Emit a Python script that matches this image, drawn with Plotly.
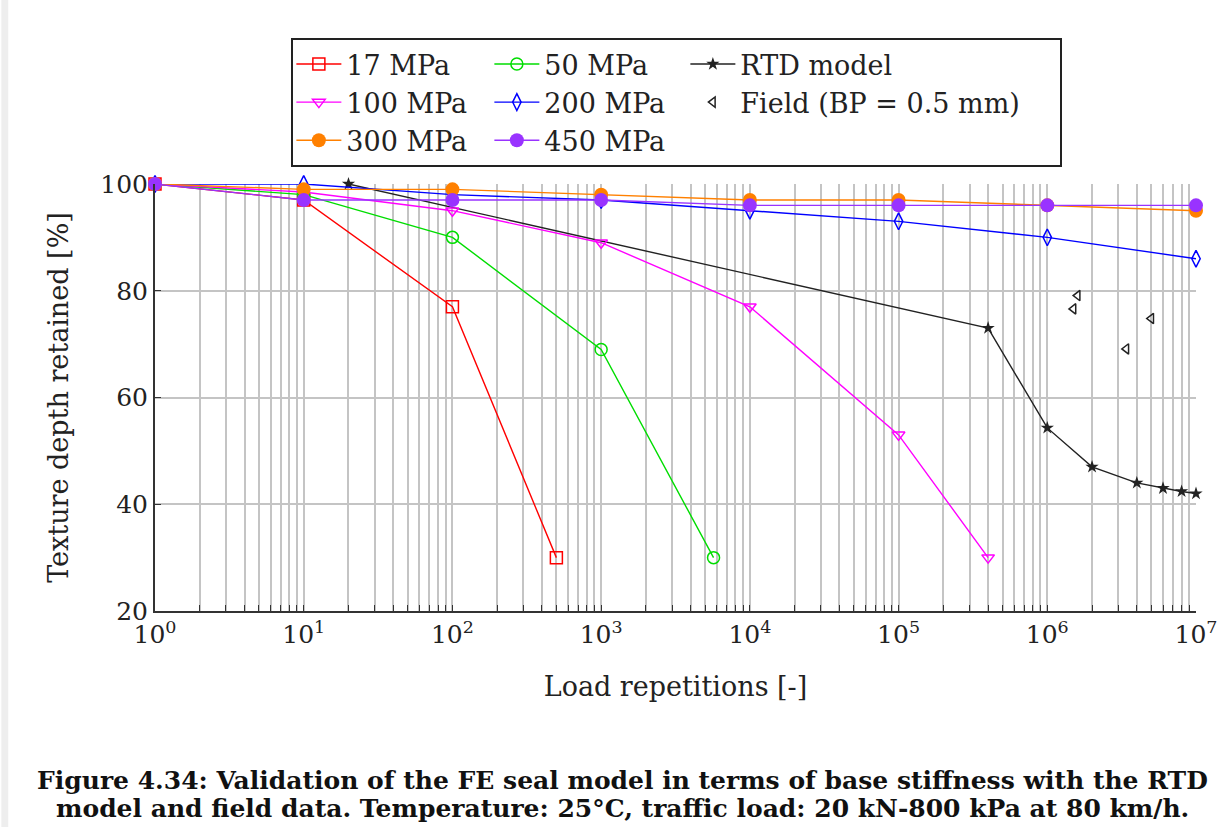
import plotly.graph_objects as go

# ---------------- data ----------------
x_17 = [1, 10, 100, 500]
y_17 = [100, 97, 77, 30]

x_50 = [1, 10, 100, 1000, 5700]
y_50 = [100, 98, 90, 69, 30]

x_rtd = [20, 4e5, 1e6, 2e6, 4e6, 6e6, 8e6, 1e7]
y_rtd = [100, 73, 54.3, 47, 44, 43, 42.4, 42]

x_100 = [1, 10, 100, 1000, 1e4, 1e5, 4e5]
y_100 = [100, 98.5, 95, 89, 77, 53, 30]

x_200 = [1, 10, 100, 1000, 1e4, 1e5, 1e6, 1e7]
y_200 = [100, 100, 98, 97, 95, 93, 90, 86]

x_field = [1.5e6, 1.6e6, 3.4e6, 5e6]
y_field = [76.6, 79.1, 69.1, 74.8]

x_300 = [1, 10, 100, 1000, 1e4, 1e5, 1e6, 1e7]
y_300 = [100, 99, 99, 98, 97, 97, 96, 95]

x_450 = [1, 10, 100, 1000, 1e4, 1e5, 1e6, 1e7]
y_450 = [100, 97, 97, 97, 96, 96, 96, 96]

x_tickvals = [1, 10, 100, 1000, 1e4, 1e5, 1e6, 1e7]
x_ticktext = ["10<sup>0</sup>", "10<sup>1</sup>", "10<sup>2</sup>", "10<sup>3</sup>",
              "10<sup>4</sup>", "10<sup>5</sup>", "10<sup>6</sup>", "10<sup>7</sup>"]
y_tickvals = [20, 40, 60, 80, 100]

caption1 = "Figure 4.34: Validation of the FE seal model in terms of base stiffness with the RTD"
caption2 = "model and field data. Temperature: 25°C, traffic load: 20 kN-800 kPa at 80 km/h."

FONT = "DejaVu Serif"
GRID = "#c4c4c4"
AXC = "#333333"

fig = go.Figure()

def add_line(x, y, name, color, symbol, size, group, lw, filled=False, mode="lines+markers"):
    fig.add_trace(go.Scatter(
        x=x, y=y, name=name, mode=mode, legendgroup=group, legendwidth=lw,
        line=dict(color=color, width=1.4),
        marker=dict(symbol=symbol, size=size, color=color,
                    line=dict(color=color, width=1.5 if not filled else 0)),
        cliponaxis=False,
    ))

add_line(x_17, y_17, "17 MPa", "#ff0000", "square-open", 12, "a", 138)
add_line(x_50, y_50, "50 MPa", "#00dd00", "circle-open", 12, "b", 136)
add_line(x_rtd, y_rtd, "RTD model", "#222222", "star", 10, "c", 315, filled=True)
add_line(x_100, y_100, "100 MPa", "#ff00ff", "triangle-down-open", 11, "a", 138)
add_line(x_200, y_200, "200 MPa", "#0000ff", "diamond-tall-open", 12, "b", 136)
add_line(x_field, y_field, "Field (BP = 0.5 mm)", "#222222", "triangle-left-open", 9, "c", 315,
         mode="markers")
add_line(x_300, y_300, "300 MPa", "#ff8000", "circle", 14, "a", 138, filled=True)
add_line(x_450, y_450, "450 MPa", "#9933ff", "circle", 14, "b", 136, filled=True)

# caption (page-centred around x = 627 px)
for txt, yy in [(caption1, -0.396), (caption2, -0.462)]:
    fig.add_annotation(text="<b>" + txt + "</b>", xref="paper", yref="paper",
                       x=0.4495, y=yy, xanchor="center", yanchor="middle",
                       showarrow=False, font=dict(family=FONT, size=25, color="#111111"))

# light grey strip at the left edge of the page
fig.add_shape(type="rect", xref="paper", yref="paper", x0=-0.1476, x1=-0.1410,
              y0=-0.506, y1=1.431, fillcolor="#eeeeee", line=dict(width=0), layer="below")

fig.update_layout(
    width=1229, height=827, autosize=False,
    margin=dict(l=155, r=25, t=184, b=216),
    paper_bgcolor="white", plot_bgcolor="white",
    font=dict(family=FONT, size=26, color="#222222"),
    showlegend=True,
    legend=dict(
        orientation="h", x=0.131, y=1.342, xanchor="left", yanchor="top",
        bgcolor="white", bordercolor="#222222", borderwidth=2,
        font=dict(family=FONT, size=27, color="#222222"),
        itemwidth=45, tracegroupgap=0, itemclick=False, itemdoubleclick=False,
    ),
    xaxis=dict(
        type="log", range=[0, 7],
        tickmode="array", tickvals=x_tickvals, ticktext=x_ticktext,
        tickfont=dict(family=FONT, size=25, color="#222222"),
        showgrid=True, gridcolor=GRID, gridwidth=1.6,
        minor=dict(dtick="D1", showgrid=True, gridcolor=GRID, gridwidth=1.6,
                   ticks="inside", ticklen=6, tickcolor=AXC, tickwidth=1),
        ticks="inside", ticklen=6, tickcolor=AXC, tickwidth=1,
        showline=True, linecolor=AXC, linewidth=2, mirror=False, zeroline=False,
        title=dict(text="Load repetitions [-]", font=dict(family=FONT, size=27, color="#222222"),
                   standoff=29),
    ),
    yaxis=dict(
        range=[20, 100], tickmode="array", tickvals=y_tickvals,
        tickfont=dict(family=FONT, size=25, color="#222222"),
        showgrid=True, gridcolor=GRID, gridwidth=1.6,
        ticks="inside", ticklen=6, tickcolor=AXC, tickwidth=1,
        showline=True, linecolor=AXC, linewidth=2, mirror=False, zeroline=False,
        title=dict(text="Texture depth retained [%]", font=dict(family=FONT, size=27, color="#222222"),
                   standoff=24),
    ),
)

fig.write_html("out.html")
